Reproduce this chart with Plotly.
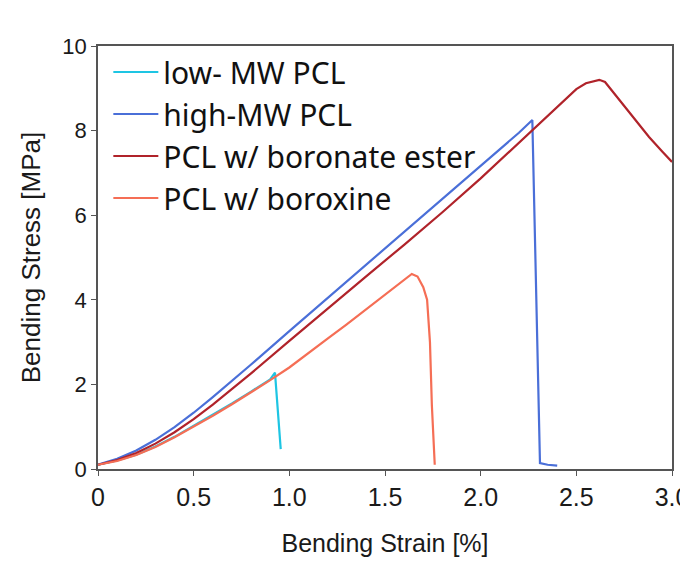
import plotly.graph_objects as go

# ---- data ----
low_mw_x = [0, 0.1, 0.2, 0.3, 0.4, 0.5, 0.6, 0.7, 0.8, 0.9, 0.925, 0.955]
low_mw_y = [0.1, 0.2, 0.34, 0.53, 0.76, 1.02, 1.28, 1.55, 1.83, 2.12, 2.28, 0.47]

high_mw_x = [0, 0.1, 0.2, 0.3, 0.4, 0.5, 0.6, 0.7, 0.8, 1.0, 1.2, 1.4, 1.6, 1.8, 2.0, 2.2, 2.27, 2.31, 2.35, 2.40]
high_mw_y = [0.1, 0.24, 0.44, 0.69, 0.99, 1.33, 1.7, 2.08, 2.47, 3.26, 4.04, 4.82, 5.6, 6.38, 7.16, 7.95, 8.25, 0.14, 0.1, 0.08]

boronate_x = [0, 0.1, 0.2, 0.3, 0.4, 0.5, 0.6, 0.7, 0.8, 1.0, 1.2, 1.4, 1.6, 1.8, 2.0, 2.2, 2.4, 2.5, 2.55, 2.62, 2.65, 2.72, 2.8, 2.88, 2.95, 3.0]
boronate_y = [0.1, 0.21, 0.38, 0.6, 0.87, 1.18, 1.52, 1.88, 2.26, 3.03, 3.8, 4.55, 5.3, 6.07, 6.87, 7.72, 8.55, 8.98, 9.12, 9.2, 9.15, 8.75, 8.3, 7.85, 7.5, 7.26]

boroxine_x = [0, 0.1, 0.2, 0.3, 0.4, 0.5, 0.6, 0.7, 0.8, 0.9, 1.0, 1.1, 1.2, 1.3, 1.4, 1.5, 1.6, 1.64, 1.67, 1.70, 1.72, 1.735, 1.745, 1.755, 1.76]
boroxine_y = [0.1, 0.19, 0.33, 0.52, 0.75, 1.0, 1.26, 1.53, 1.81, 2.1, 2.4, 2.75, 3.08, 3.42, 3.77, 4.12, 4.47, 4.61, 4.55, 4.3, 4.0, 3.0, 1.5, 0.5, 0.1]

series_names = ["low- MW PCL", "high-MW PCL", "PCL w/ boronate ester", "PCL w/ boroxine"]
series_colors = ["#1ec5e3", "#4a6fd8", "#b0232a", "#f56e55"]

x_tickvals = [0, 0.5, 1.0, 1.5, 2.0, 2.5, 3.0]
x_ticktext = ["0", "0.5", "1.0", "1.5", "2.0", "2.5", "3.0"]
y_tickvals = [0, 2, 4, 6, 8, 10]
y_ticktext = ["0", "2", "4", "6", "8", "10"]

series = [(low_mw_x, low_mw_y), (high_mw_x, high_mw_y), (boronate_x, boronate_y), (boroxine_x, boroxine_y)]

fig = go.Figure()
for i, ((xs, ys), name, col) in enumerate(zip(series, series_names, series_colors)):
    fig.add_trace(go.Scatter(x=xs, y=ys, mode="lines", name=name,
                             line=dict(color=col, width=2.2), legendgroup=f"g{i}"))

axis_common = dict(showline=True, linecolor="#555555", linewidth=1.5, mirror=True,
                   ticks="outside", ticklen=5, tickcolor="#555555", showgrid=False,
                   zeroline=False, automargin=False, ticklabeloverflow="allow")

fig.update_layout(
    width=680, height=554,
    margin=dict(l=90, r=16, t=38, b=93),
    paper_bgcolor="white", plot_bgcolor="white",
    font=dict(family="Liberation Sans, Arial, sans-serif", color="#1a1a1a"),
    xaxis=dict(range=[0, 3.0], tickvals=x_tickvals, ticktext=x_ticktext,
               tickfont=dict(size=25), title=dict(text="Bending Strain [%]", font=dict(size=25), standoff=25),
               **axis_common),
    yaxis=dict(range=[0, 10], tickvals=y_tickvals, ticktext=y_ticktext,
               tickfont=dict(size=22), title=dict(text="Bending Stress [MPa]", font=dict(size=26), standoff=14),
               **axis_common),
    legend=dict(x=0.018, y=1.0, xanchor="left", yanchor="top",
                font=dict(family="Noto Sans, Open Sans, sans-serif", size=30, color="#111111"),
                bgcolor="rgba(255,255,255,0)", itemwidth=45, tracegroupgap=0),
    showlegend=True,
)

fig.write_html("out.html")
